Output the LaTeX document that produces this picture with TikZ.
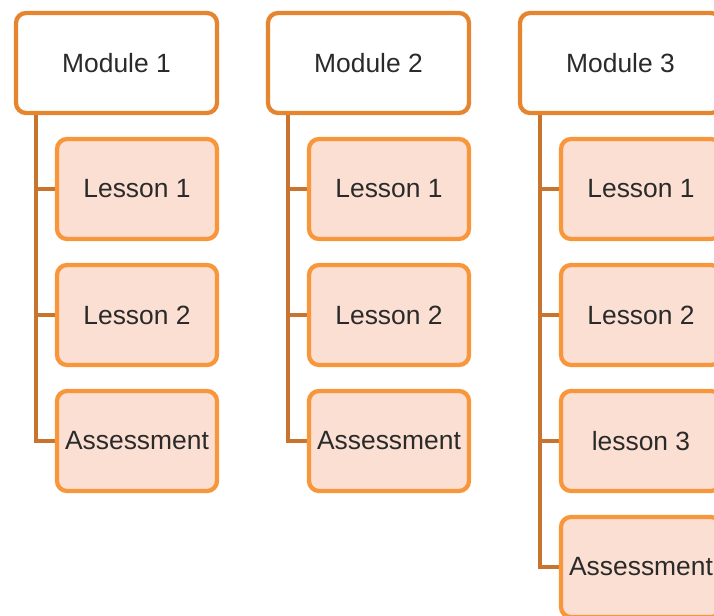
\documentclass[tikz,border=0pt]{standalone}
\usepackage{fontspec}
\setmainfont{Liberation Sans}
\usetikzlibrary{backgrounds}
\definecolor{modline}{HTML}{E5852F}
\definecolor{lesline}{HTML}{F7963A}
\definecolor{lesfill}{HTML}{FBDFD2}
\definecolor{conn}{HTML}{C8742E}
\definecolor{txt}{HTML}{2A2A2A}
\begin{document}
\begin{tikzpicture}[x=0.75pt,y=-0.75pt,
  modbox/.style={draw=modline,line width=3.2pt,fill=white,rounded corners=7.5pt,
    minimum width=150.75pt,minimum height=75pt,inner sep=0pt,text=txt,
    font=\fontsize{19.8pt}{22pt}\selectfont},
  lesbox/.style={draw=lesline,line width=3.2pt,fill=lesfill,rounded corners=7.5pt,
    minimum width=120pt,minimum height=75pt,inner sep=0pt,text=txt,
    font=\fontsize{19.8pt}{22pt}\selectfont},
  link/.style={draw=conn,line width=3.5pt}]
\path[use as bounding box,clip] (0,0) rectangle (714,616);
% Column 1
\node[modbox] (m1) at (116.5,63) {Module 1};
\node[lesbox] (a1) at (137,189) {Lesson 1};
\node[lesbox] (a2) at (137,315) {Lesson 2};
\node[lesbox] (a3) at (137,441) {Assessment};
% Column 2
\node[modbox] (m2) at (368.5,63) {Module 2};
\node[lesbox] (b1) at (389,189) {Lesson 1};
\node[lesbox] (b2) at (389,315) {Lesson 2};
\node[lesbox] (b3) at (389,441) {Assessment};
% Column 3
\node[modbox] (m3) at (620.5,63) {Module 3};
\node[lesbox] (c1) at (641,189) {Lesson 1};
\node[lesbox] (c2) at (641,315) {Lesson 2};
\node[lesbox] (c3) at (641,441) {lesson 3};
\node[lesbox] (c4) at (641,567) {Assessment};
\coordinate (t1) at ([xshift=16.5pt]m1.south west);
\coordinate (t2) at ([xshift=16.5pt]m2.south west);
\coordinate (t3) at ([xshift=16.5pt]m3.south west);
\begin{scope}[on background layer]
\foreach \n in {a1,a2,a3} \draw[link] (t1) |- (\n.west);
\foreach \n in {b1,b2,b3} \draw[link] (t2) |- (\n.west);
\foreach \n in {c1,c2,c3,c4} \draw[link] (t3) |- (\n.west);
\end{scope}
\end{tikzpicture}
\end{document}
